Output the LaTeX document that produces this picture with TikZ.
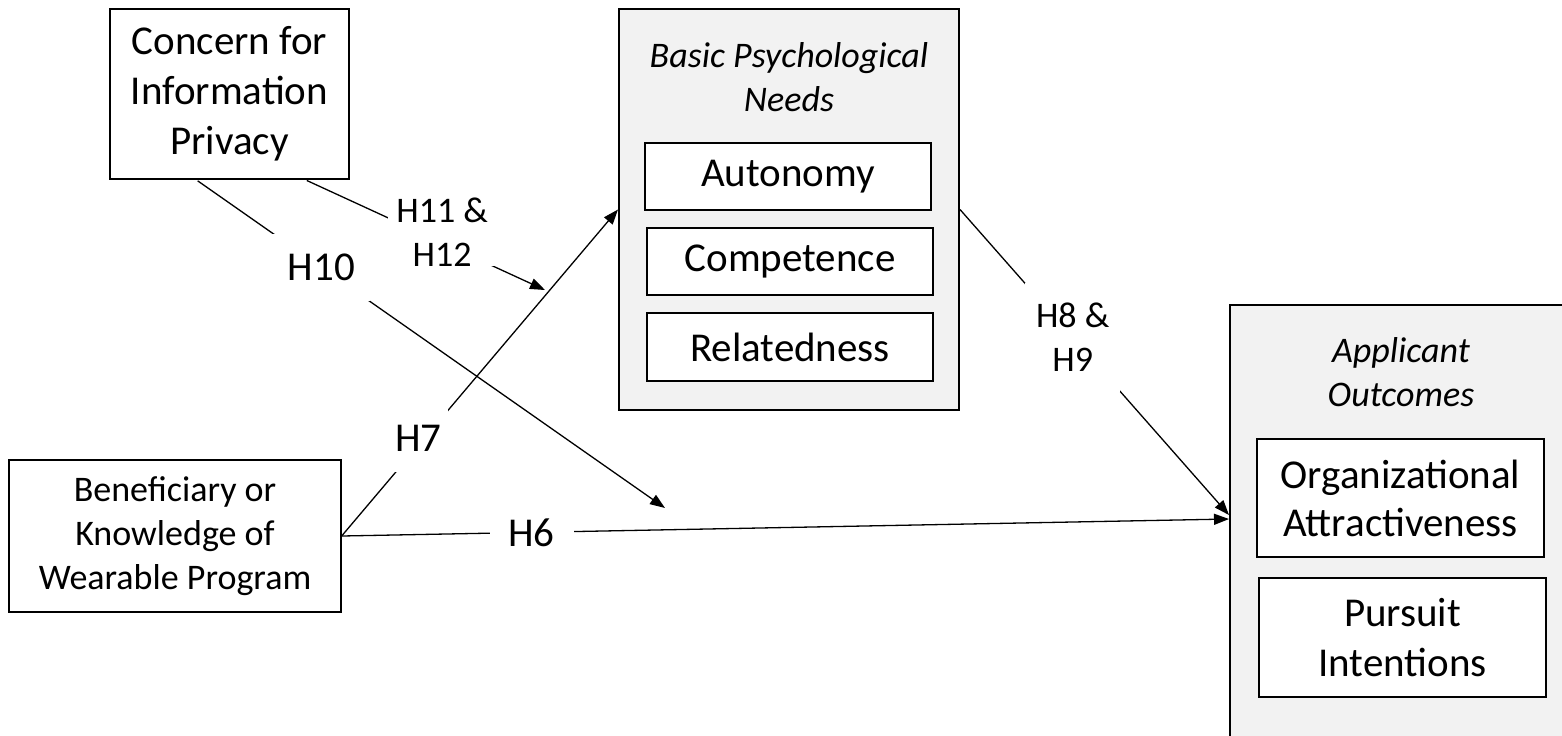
\documentclass[tikz,border=0pt]{standalone}
\usepackage{fontspec}
\setmainfont{Carlito}
\usetikzlibrary{arrows.meta}
\definecolor{panel}{HTML}{F2F2F2}

\begin{document}
\begin{tikzpicture}[x=0.5pt,y=-0.5pt,
    box/.style={draw,line width=0.65pt,fill=white,align=center,inner sep=0pt},
    group/.style={draw,line width=1pt,fill=panel,inner sep=0pt},
    title/.style={font=\fontsize{18}{22}\selectfont\itshape,align=center},
    big/.style={font=\fontsize{20.5}{25}\selectfont},
    small/.style={font=\fontsize{18}{22}\selectfont},
    hyp/.style={fill=white,inner sep=0pt,align=center},
    link/.style={line width=0.65pt,-{Triangle[length=7.5pt,width=5.5pt]}}]
                \useasboundingbox (0,0) rectangle (1562,735);
                \clip (0,0) rectangle (1562,735);

                \node[box,big,minimum width=119.5pt,minimum height=85pt] (concern) at (229.5,94) {Concern for\\Information\\Privacy};
                \node[box,small,minimum width=166pt,minimum height=76pt] (bene) at (175,536) {Beneficiary or\\Knowledge of\\Wearable Program};

                \node[group,minimum width=170pt,minimum height=200.5pt] (basic) at (789,209.5) {};
                \node[title] at (789,77) {Basic Psychological\\Needs};
                \node[box,big,minimum width=143pt,minimum height=33.5pt] (auto) at (788,176.5) {Autonomy};
                \node[box,big,minimum width=143pt,minimum height=33.5pt] (comp) at (790,261.5) {Competence};
                \node[box,big,minimum width=143pt,minimum height=34pt] (relat) at (790,347) {Relatedness};

                \node[group,minimum width=180pt,minimum height=230pt] (outcomes) at (1410,535) {};
                \node[title] at (1401,372) {Applicant\\Outcomes};
                \node[box,font=\fontsize{20.5}{24}\selectfont,minimum width=143.5pt,minimum height=59pt] (orgattr) at (1400.5,498) {Organizational\\Attractiveness};
                \node[box,big,minimum width=143.5pt,minimum height=59.5pt] (pursuit) at (1402.5,637.5) {Pursuit\\Intentions};

                \coordinate (h10end) at (665,508);
                \coordinate (h11end) at (545,290);

                \draw[link,shorten <=1pt] ([xshift=-16.75pt]concern.south) -- node[hyp,big,pos=0.267,minimum width=49pt,minimum height=33.5pt] {H10} (h10end);
                \draw[link,shorten <=1pt] ([xshift=37.75pt]concern.south) -- node[hyp,small,pos=0.53,xshift=5pt,yshift=3pt,inner xsep=4pt] {H11 \&\\H12} (h11end);
                \draw[link] (bene.east) -- node[hyp,big,pos=0.30,xshift=-3pt,minimum width=29pt,minimum height=34pt] {H7} (basic.west);
                \draw[link] (bene.east) -- node[hyp,big,pos=0.214,minimum width=42pt] {H6} ([yshift=8pt]outcomes.west);
                \draw[link] (basic.east) -- node[hyp,small,pos=0.419,minimum width=47.5pt,minimum height=54.5pt] {H8 \&\\H9} ([yshift=10pt]outcomes.west);
            \end{tikzpicture}
\end{document}
